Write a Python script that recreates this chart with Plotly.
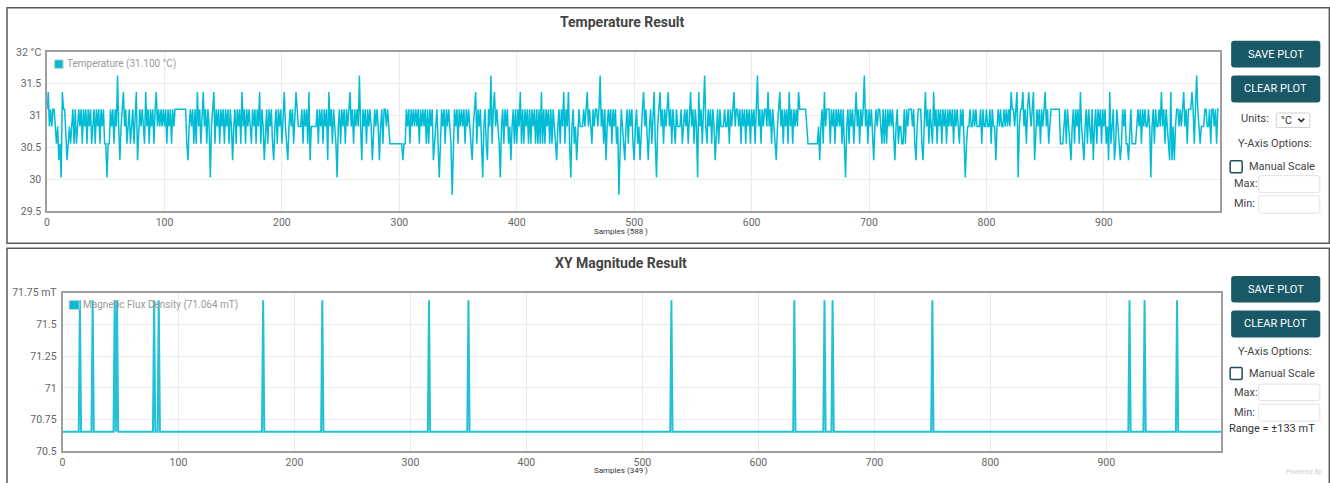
import plotly.graph_objects as go

W, H = 1330, 483

# ---------------- data ----------------
# Temperature is quantised; each digit below is an index into temp_levels (50 samples per string)
temp_levels = [29.76, 30.03, 30.30, 30.56, 30.83, 31.10, 31.37, 31.63]
temp_level_codes = [
    "56454554342316553234345353454535453545345354535453",
    "31335453547424564534534535624545436453545356454545",
    "45354535455555555553245453536453564535414563545 35".replace(" ", ""),
    "45354535424535453645354543545354635424535453245354",
    "53564324545356544453545362444445354535452645354314",
    "53545354564535454742545354542454542453554543333333",
    "33332335453545454535454535354523453135453545430354",
    "53545453545432456354531453254735645431453545342453",
    "53546353545353545353536353545353543245354635463145",
    "34245444545645435455457453524545354534035432453545",
    "32453424564532453563145645354564535435444534545356",
    "45354164535743545354245354445445354564554535453545",
    "35453574535455464535432456453545364535454655555543",
    "33333333424536455535453545453531453545356453545745",
    "35453245455435353545453245344335354555453245553246",
    "45354364535453545354545354543545313445445454445354",
    "45445354424545445454546554561455645356545624545354",
    "56453455555555333453543245354536432453543524535453",
    "54534263452354323545332453333454535454454145354454",
    "64535432624245545456453555653575434445544535545355",
]
temp_x_ticks = [0, 100, 200, 300, 400, 500, 600, 700, 800, 900]
temp_y_ticks = [29.5, 30, 30.5, 31, 31.5, 32]
temp_y_ticktext = ["29.5", "30", "30.5", "31", "31.5", "32 °C"]

mag_baseline = 70.653
mag_peak = 71.69
mag_spike_samples = [15, 26, 45, 47, 79, 83, 173, 224, 316, 350, 525, 631, 657, 664, 750, 920, 933, 961]
mag_sample_count = 1000
mag_x_ticks = [0, 100, 200, 300, 400, 500, 600, 700, 800, 900]
mag_y_ticks = [70.5, 70.75, 71, 71.25, 71.5, 71.75]
mag_y_ticktext = ["70.5", "70.75", "71", "71.25", "71.5", "71.75 mT"]

temp_codes = "".join(temp_level_codes)
temp_y = [temp_levels[int(c)] for c in temp_codes]
temp_x = list(range(len(temp_y)))

spike_set = set(mag_spike_samples)
mag_x = list(range(mag_sample_count))
mag_y = [mag_peak if i in spike_set else mag_baseline for i in mag_x]

# ---------------- helpers ----------------
# screen positions (measured on the reference) -> paper fractions, with a small correction
# for the scaling the capture applies to the page
SX, OX = 0.996, 3.0
SY, OY = 0.971, 6.2

def px(x):
    return ((x - OX) / SX) / W

def py(y):
    return 1 - ((y - OY) / SY) / H

FONT = "Roboto"
TEAL = "#00bcd4"
BTN = "#195866"

shapes = []
annotations = []

def rect(x0, y0, x1, y1, line="#666", lw=1, fill="rgba(0,0,0,0)", r=0):
    if r == 0:
        shapes.append(dict(type="rect", xref="paper", yref="paper",
                           x0=px(x0), x1=px(x1), y0=py(y1), y1=py(y0),
                           line=dict(color=line, width=lw), fillcolor=fill, layer="above"))
    else:
        p = (f"M {px(x0+r)},{py(y0)} L {px(x1-r)},{py(y0)} Q {px(x1)},{py(y0)} {px(x1)},{py(y0+r)} "
             f"L {px(x1)},{py(y1-r)} Q {px(x1)},{py(y1)} {px(x1-r)},{py(y1)} "
             f"L {px(x0+r)},{py(y1)} Q {px(x0)},{py(y1)} {px(x0)},{py(y1-r)} "
             f"L {px(x0)},{py(y0+r)} Q {px(x0)},{py(y0)} {px(x0+r)},{py(y0)} Z")
        shapes.append(dict(type="path", xref="paper", yref="paper", path=p,
                           line=dict(color=line, width=lw), fillcolor=fill, layer="above"))

def text(x, y, s, size=11, color="#444", xanchor="left", bold=False, italic=False):
    if bold:
        s = f"<b>{s}</b>"
    if italic:
        s = f"<i>{s}</i>"
    annotations.append(dict(x=px(x), y=py(y), xref="paper", yref="paper", text=s, showarrow=False,
                            xanchor=xanchor, yanchor="middle",
                            font=dict(family=FONT, size=size, color=color)))

# ---------------- figure ----------------
fig = go.Figure()
fig.add_trace(go.Scatter(x=temp_x, y=temp_y, mode="lines", line=dict(color=TEAL, width=1.5),
                         xaxis="x", yaxis="y", showlegend=False, hoverinfo="skip"))
fig.add_trace(go.Scatter(x=mag_x, y=mag_y, mode="lines", line=dict(color="#22c1d6", width=2),
                         xaxis="x2", yaxis="y2", showlegend=False, hoverinfo="skip"))

axis_common = dict(showline=True, mirror=True, linecolor="#9e9e9e", linewidth=1.5,
                   showgrid=True, gridcolor="#ebebeb", gridwidth=1, zeroline=False, ticks="",
                   tickfont=dict(family=FONT, size=10.5, color="#666"))

fig.update_layout(
    width=W, height=H, autosize=False,
    margin=dict(l=0, r=0, t=0, b=0),
    paper_bgcolor="white", plot_bgcolor="white",
    xaxis=dict(domain=[px(47), px(1218)], range=[0, 999], tickvals=temp_x_ticks, anchor="y", **axis_common),
    yaxis=dict(domain=[py(211), py(52)], range=[29.5, 32], tickvals=temp_y_ticks, ticktext=temp_y_ticktext,
               anchor="x", ticklabelstandoff=2, **axis_common),
    xaxis2=dict(domain=[px(62.4), px(1219)], range=[0, 999], tickvals=mag_x_ticks, anchor="y2", **axis_common),
    yaxis2=dict(domain=[py(450.5), py(292.3)], range=[70.5, 71.75], tickvals=mag_y_ticks, ticktext=mag_y_ticktext,
                anchor="x2", ticklabelstandoff=2, **axis_common),
)

# panel frames
rect(7, 8, 1327, 243, line="#5a5a5a", lw=1.5)
rect(7, 248, 1327, 500, line="#5a5a5a", lw=1.5)

# titles
text(621, 22, "Temperature Result", size=14, color="#444", xanchor="center", bold=True)
text(620, 263, "XY Magnitude Result", size=14, color="#444", xanchor="center", bold=True)

# x-axis titles
text(620, 231, "Samples (588 )", size=8, color="#333", xanchor="center")
text(620, 470, "Samples (349 )", size=8, color="#333", xanchor="center")

# legends
rect(54.5, 60, 63, 68.5, line="#cfcfcf", lw=1, fill=TEAL)
text(65, 64.5, "Temperature (31.100 °C)", size=10, color="#9a9a9a")
rect(69, 300, 79, 309, line="#cfcfcf", lw=1, fill=TEAL)
text(80.5, 304.5, "Magnetic Flux Density (71.064 mT)", size=10, color="#9a9a9a")

# ---- right side controls (top panel)
rect(1229, 41, 1318, 67.5, line=BTN, lw=0, fill=BTN, r=3)
text(1273.5, 54.5, "SAVE PLOT", size=11, color="white", xanchor="center")
rect(1229, 75.5, 1318, 102.5, line=BTN, lw=0, fill=BTN, r=3)
text(1273.5, 89, "CLEAR PLOT", size=11, color="white", xanchor="center")
text(1269, 118.5, "Units:", size=11, color="#444", xanchor="right")
rect(1274, 113, 1307.5, 127.5, line="#cfcfcf", lw=1, fill="white", r=1)
text(1277, 120.5, "°C", size=10.5, color="#333")
shapes.append(dict(type="path", xref="paper", yref="paper",
                   path=f"M {px(1296)},{py(118.5)} L {px(1299)},{py(121.5)} L {px(1302)},{py(118.5)}",
                   line=dict(color="#333", width=1.8), layer="above"))
text(1273, 143.5, "Y-Axis Options:", size=11, color="#444", xanchor="center")
rect(1228, 160.5, 1240, 172.5, line="#1c4e5c", lw=1.5, fill="white", r=1.5)
text(1245, 166.5, "Manual Scale", size=11, color="#444")
text(1230, 183.5, "Max:", size=11, color="#444")
rect(1256.5, 175.5, 1317.5, 192.5, line="#e2e2e2", lw=1, fill="white", r=2)
text(1230, 203.5, "Min:", size=11, color="#444")
rect(1256.5, 195.5, 1317.5, 213, line="#e2e2e2", lw=1, fill="white", r=2)

# ---- right side controls (bottom panel)
rect(1229, 275.5, 1318, 302, line=BTN, lw=0, fill=BTN, r=3)
text(1273.5, 289, "SAVE PLOT", size=11, color="white", xanchor="center")
rect(1229, 310, 1318, 337, line=BTN, lw=0, fill=BTN, r=3)
text(1273.5, 323.5, "CLEAR PLOT", size=11, color="white", xanchor="center")
text(1273, 351, "Y-Axis Options:", size=11, color="#444", xanchor="center")
rect(1228, 367, 1240, 379, line="#1c4e5c", lw=1.5, fill="white", r=1.5)
text(1245, 373, "Manual Scale", size=11, color="#444")
text(1230, 391.5, "Max:", size=11, color="#444")
rect(1256.5, 383.5, 1317.5, 400, line="#e2e2e2", lw=1, fill="white", r=2)
text(1230, 411.5, "Min:", size=11, color="#444")
rect(1256.5, 403.5, 1317.5, 420.5, line="#e2e2e2", lw=1, fill="white", r=2)
text(1225, 428, "Range = ±133 mT", size=11, color="#333")
text(1322, 471.5, "Powered By", size=7, color="#cfcfcf", italic=True, xanchor="right")

fig.update_layout(shapes=shapes, annotations=annotations)

fit_page = (
    "var s=document.createElement('style');"
    "s.textContent='html,body{margin:0!important;padding:0!important;overflow:hidden!important;}';"
    "document.head.appendChild(s);"
)
fig.write_html("out.html", config={"responsive": False, "displayModeBar": False},
               post_script=fit_page)
